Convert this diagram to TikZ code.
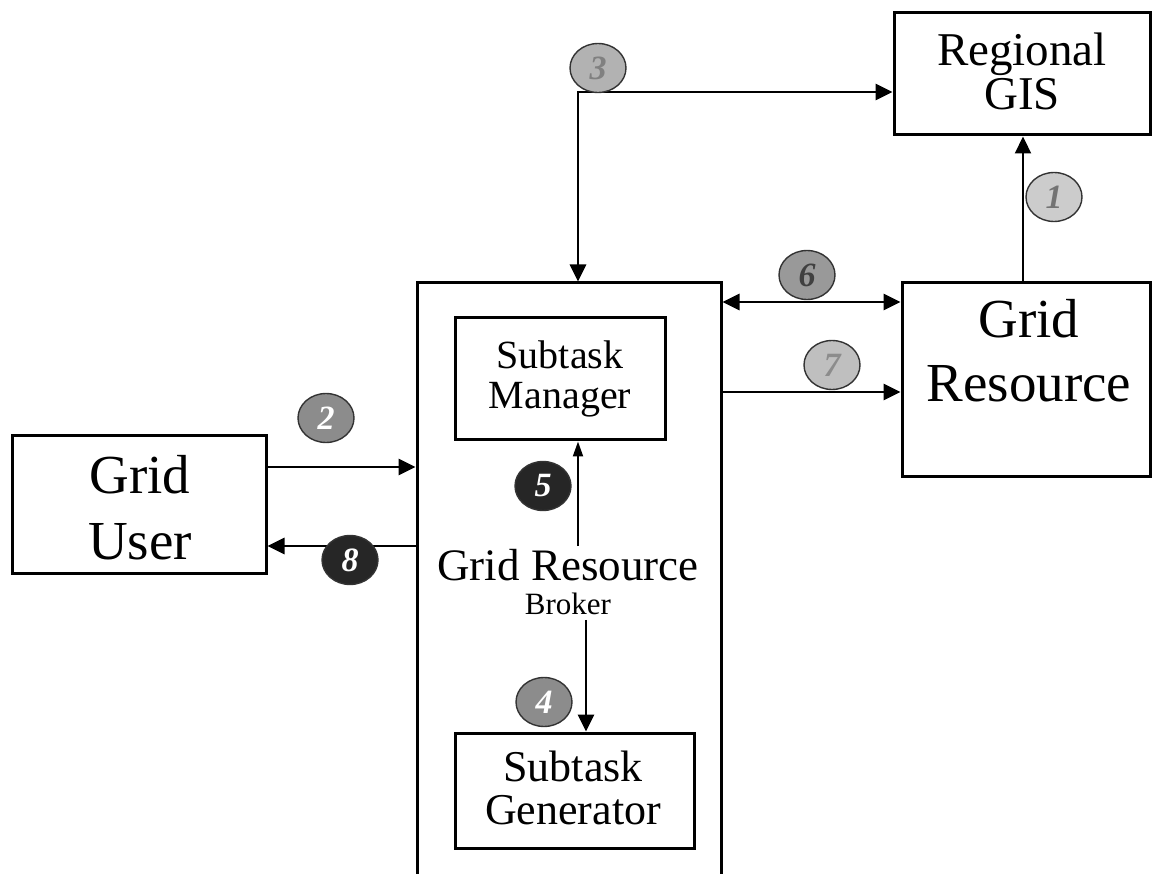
\documentclass[tikz,border=0pt]{standalone}
\usepackage{fontspec}
\setmainfont{Liberation Serif}
\usetikzlibrary{arrows.meta,shapes.geometric}
\begin{document}
\begin{tikzpicture}[x=1pt,y=-1pt,
  box/.style={draw, line width=3pt, rectangle, inner sep=0pt},
  link/.style={line width=2.8pt, -{Triangle[length=17pt,width=16pt]}},
  both/.style={line width=2.8pt, {Triangle[length=17pt,width=16pt]}-{Triangle[length=17pt,width=16pt]}},
  thin link/.style={line width=2pt, -{Triangle[length=15pt,width=10pt]}},
  badge/.style={ellipse, draw=black!80, line width=1.4pt, inner sep=0pt,
    minimum width=56pt, minimum height=49pt,
    font=\fontsize{34}{34}\selectfont\itshape\bfseries},
  label/.style={inner sep=0pt, align=center}
]
\useasboundingbox (0,0) rectangle (1152,874);
\fill[white] (0,0) rectangle (1152,874);

% boxes
\node[box, minimum width=256pt, minimum height=122pt] (gis) at (1022,74) {};
\node[box, minimum width=248pt, minimum height=194pt] (res) at (1026,380) {};
\node[box, minimum width=254pt, minimum height=137pt] (user) at (139,504.5) {};
\node[box, minimum width=304pt, minimum height=640pt] (broker) at (569,603) {};
\node[box, minimum width=210pt, minimum height=122pt] (mgr) at (560,379) {};
\node[box, minimum width=239pt, minimum height=115pt] (gen) at (574.5,790.5) {};

% box texts
\node[label, font=\fontsize{47}{44}\selectfont] (t-gis) at (1022,71) {Regional\\GIS};
\node[label, font=\fontsize{55}{64}\selectfont] (t-res) at (1029,351) {Grid\\Resource};
\node[label, font=\fontsize{55}{66}\selectfont] (t-user) at (140,508) {Grid\\User};
\node[label, font=\fontsize{40}{40}\selectfont] (t-mgr) at (560,379) {Subtask\\Manager};
\node[label, font=\fontsize{45}{34}\selectfont] (t-brk) at (568,582)
  {Grid Resource\\{\fontsize{31}{31}\selectfont Broker}};
\node[label, font=\fontsize{44}{43}\selectfont] (t-gen) at (573,788) {Subtask\\Generator};

% connectors
\coordinate (c3) at (578,92);
\coordinate (y6) at (0,302);
\coordinate (y7) at (0,392);
\coordinate (y2) at (0,467);
\coordinate (y8) at (0,546);
\coordinate (x1) at (1023,0);
\coordinate (x5) at (578,0);
\coordinate (x4) at (586,0);

\draw[both] (gis.west |- c3) -- (c3) -- (c3 |- broker.north);
\draw[link, line width=2.2pt] (res.north -| x1) -- (gis.south -| x1);
\draw[both] (broker.east |- y6) -- (res.west |- y6);
\draw[link] (broker.east |- y7) -- (res.west |- y7);
\draw[link] (user.east |- y2) -- (broker.west |- y2);
\draw[link] (broker.west |- y8) -- (user.east |- y8);
\draw[thin link] (t-brk.north -| x5) ++(0,-3) -- (mgr.south -| x5);
\draw[link] (t-brk.south -| x4) ++(0,5) -- (gen.north -| x4);

% step numbers
\node[badge, fill=black!20, text=black!55] (n1) at (1054,197) {1};
\node[badge, fill=black!45, text=white] (n2) at (326,418) {2};
\node[badge, fill=black!30, text=black!50] (n3) at (598,68) {3};
\node[badge, fill=black!45, text=white] (n4) at (544,702) {4};
\node[badge, fill=black!85, text=white] (n5) at (543,486) {5};
\node[badge, fill=black!40, text=black!75] (n6) at (807,275) {6};
\node[badge, fill=black!25, text=black!45] (n7) at (832,365) {7};
\node[badge, fill=black!85, text=white] (n8) at (350,560) {8};
\end{tikzpicture}
\end{document}
